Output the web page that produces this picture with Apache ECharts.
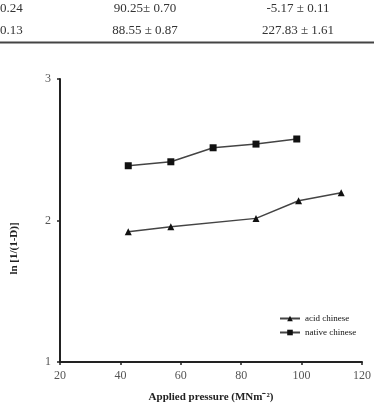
<!DOCTYPE html>
<html>
<head>
<meta charset="utf-8">
<script src="https://cdn.jsdelivr.net/npm/echarts@6/dist/echarts.min.js"></script>
<style>
  html, body { margin: 0; padding: 0; background: #fff; }
  #main { width: 374px; height: 411px; }
</style>
</head>
<body>
<div id="main"></div>
<script>
  // table fragment above the figure
  var tableRows = [
    ['0.24', '90.25\u00b1 0.70', '-5.17 \u00b1 0.11'],
    ['0.13', '88.55 \u00b1 0.87', '227.83 \u00b1 1.61']
  ];

  // x = applied pressure, y = ln[1/(1-D)]
  var acidPressure = [42.6, 56.7, 84.9, 99.0, 113.1];
  var acidValues = [1.92, 1.956, 2.015, 2.14, 2.196];
  var nativePressure = [42.6, 56.7, 70.7, 84.9, 98.4];
  var nativeValues = [2.387, 2.415, 2.514, 2.54, 2.576];

  function pairs(xs, ys) {
    return xs.map(function (x, i) { return [x, ys[i]]; });
  }

  var serif = '"Liberation Serif", "Times New Roman", serif';

  var tableGraphic = [];
  tableRows.forEach(function (row, r) {
    var y = 9 + r * 22;
    tableGraphic.push({ type: 'text', left: 0, top: y - 7,
      style: { text: row[0], font: '13px ' + serif, fill: '#333' } });
    tableGraphic.push({ type: 'text', x: 145, y: y,
      style: { text: row[1], font: '13px ' + serif, fill: '#333', textAlign: 'center', textVerticalAlign: 'middle' } });
    tableGraphic.push({ type: 'text', x: 298, y: y,
      style: { text: row[2], font: '13px ' + serif, fill: '#333', textAlign: 'center', textVerticalAlign: 'middle' } });
  });
  tableGraphic.push({ type: 'line', shape: { x1: 0, y1: 42.5, x2: 374, y2: 42.5 },
    style: { stroke: '#444', lineWidth: 2 } });

  var myChart = echarts.init(document.getElementById('main'));
  myChart.setOption({
    animation: false,
    backgroundColor: '#fff',
    grid: { left: 60, right: 9, top: 79, bottom: 49 },
    graphic: tableGraphic,
    legend: {
      orient: 'vertical',
      left: 274,
      top: 309,
      itemWidth: 20,
      itemHeight: 7,
      itemGap: 5,
      textStyle: { fontFamily: serif, fontSize: 9, color: '#111' },
      data: ['acid chinese', 'native chinese']
    },
    xAxis: {
      type: 'value',
      min: 20, max: 120, interval: 20,
      name: 'Applied pressure (MNm\u207b\u00b2)',
      nameLocation: 'middle',
      nameGap: 30,
      nameTextStyle: { fontFamily: serif, fontSize: 11, fontWeight: 'bold', color: '#222' },
      axisLine: { lineStyle: { color: '#222', width: 2 } },
      axisTick: { show: true, length: 3, lineStyle: { color: '#222', width: 1.5 } },
      axisLabel: { fontFamily: serif, fontSize: 12, color: '#555', margin: 8 },
      splitLine: { show: false }
    },
    yAxis: {
      type: 'value',
      min: 1, max: 3, interval: 1,
      name: 'ln [1/(1-D)]',
      nameLocation: 'middle',
      nameGap: 40,
      nameTextStyle: { fontFamily: serif, fontSize: 11, fontWeight: 'bold', color: '#222', padding: [0, 0, 0, -56] },
      axisLine: { show: true, lineStyle: { color: '#222', width: 2 } },
      axisTick: { show: true, length: 3, lineStyle: { color: '#222', width: 1.5 } },
      axisLabel: { fontFamily: serif, fontSize: 12, color: '#555', margin: 9 },
      splitLine: { show: false }
    },
    series: [
      {
        name: 'acid chinese',
        type: 'line',
        data: pairs(acidPressure, acidValues),
        symbol: 'triangle',
        symbolSize: 7,
        itemStyle: { color: '#111' },
        lineStyle: { color: '#444', width: 1.5 }
      },
      {
        name: 'native chinese',
        type: 'line',
        data: pairs(nativePressure, nativeValues),
        symbol: 'rect',
        symbolSize: 7,
        itemStyle: { color: '#111' },
        lineStyle: { color: '#444', width: 1.5 }
      }
    ]
  });
</script>
</body>
</html>
